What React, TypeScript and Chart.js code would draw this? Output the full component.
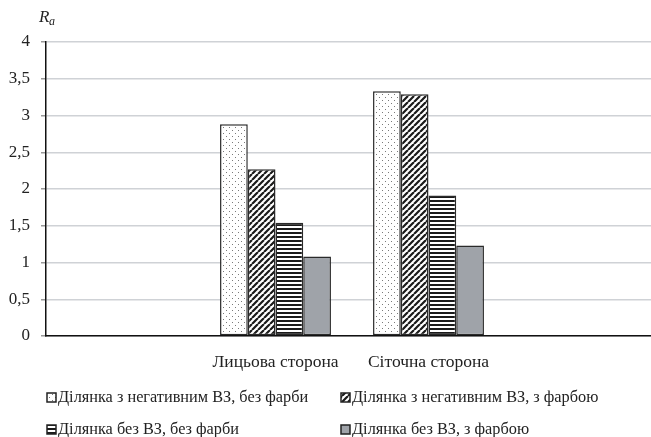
import React, { useEffect, useRef } from "react";
import { Chart, registerables } from "chart.js";

Chart.register(...registerables);

const categories = ["", "Лицьова сторона", "Сіточна сторона", ""];
const seriesNames = [
  "Ділянка з негативним ВЗ, без фарби",
  "Ділянка з негативним ВЗ, з фарбою",
  "Ділянка без ВЗ, без фарби",
  "Ділянка без ВЗ, з фарбою",
];
const s1 = [null, 2.88, 3.33, null];
const s2 = [null, 2.27, 3.29, null];
const s3 = [null, 1.54, 1.91, null];
const s4 = [null, 1.08, 1.23, null];
const yTicks = [0, 0.5, 1, 1.5, 2, 2.5, 3, 3.5, 4];

const FONT = "'Liberation Serif', 'Times New Roman', serif";

function makePattern(kind: string): CanvasPattern | string {
  const c = document.createElement("canvas");
  const ctx = c.getContext("2d")!;
  if (kind === "dots") {
    c.width = 6; c.height = 6;
    ctx.fillStyle = "#ffffff"; ctx.fillRect(0, 0, 6, 6);
    ctx.fillStyle = "#7a7a7a";
    ctx.fillRect(1, 1, 1, 1);
    ctx.fillRect(4, 4, 1, 1);
    return ctx.createPattern(c, "repeat")!;
  }
  if (kind === "diag") {
    const s = 6;
    c.width = s; c.height = s;
    ctx.fillStyle = "#ffffff"; ctx.fillRect(0, 0, s, s);
    ctx.strokeStyle = "#1a1a1a"; ctx.lineWidth = 2.2;
    ctx.beginPath();
    for (let k = -1; k <= 1; k++) {
      ctx.moveTo(k * s, s);
      ctx.lineTo(k * s + s, 0);
    }
    ctx.stroke();
    return ctx.createPattern(c, "repeat")!;
  }
  if (kind === "horiz") {
    c.width = 4; c.height = 4;
    ctx.fillStyle = "#ffffff"; ctx.fillRect(0, 0, 4, 4);
    ctx.fillStyle = "#1a1a1a"; ctx.fillRect(0, 0, 4, 2);
    return ctx.createPattern(c, "repeat")!;
  }
  return "#9fa3a9";
}

export default function App() {
  const ref = useRef<HTMLCanvasElement | null>(null);
  useEffect(() => {
    const fills = [makePattern("dots"), makePattern("diag"), makePattern("horiz"), makePattern("solid")];
    const data = [s1, s2, s3, s4];
    const extras = {
      id: "extras",
      afterDraw(chart: any) {
        const ctx = chart.ctx as CanvasRenderingContext2D;
        ctx.save();
        ctx.fillStyle = "#222";
        ctx.textBaseline = "alphabetic";
        ctx.textAlign = "left";
        ctx.font = `italic 17px ${FONT}`;
        ctx.fillText("R", 39, 22);
        ctx.font = `italic 12px ${FONT}`;
        ctx.fillText("a", 49, 25);
        // legend
        const pos = [
          [47, 398],
          [341, 398],
          [47, 430],
          [341, 430],
        ];
        ctx.font = `16.3px ${FONT}`;
        ctx.textBaseline = "middle";
        for (let i = 0; i < 4; i++) {
          const [x, y] = pos[i];
          ctx.fillStyle = fills[i] as any;
          ctx.fillRect(x, y - 5, 9, 9);
          ctx.strokeStyle = "#222";
          ctx.lineWidth = 1.5;
          ctx.strokeRect(x, y - 5, 9, 9);
          ctx.fillStyle = "#222";
          ctx.fillText(seriesNames[i], x + 11, y);
        }
        ctx.restore();
      },
    };
    const chart = new Chart(ref.current!, {
      type: "bar",
      data: {
        labels: categories,
        datasets: data.map((d, i) => ({
          label: seriesNames[i],
          data: d as any,
          backgroundColor: fills[i] as any,
          borderColor: "#2a2a2a",
          borderWidth: 1.5,
          borderSkipped: false,
          categoryPercentage: 0.725,
          barPercentage: 1,
        })),
      },
      options: {
        animation: false,
        responsive: false,
        layout: { padding: { top: 42, bottom: 61, left: 0, right: 0 } },
        plugins: { legend: { display: false }, tooltip: { enabled: false } },
        scales: {
          x: {
            grid: { display: false },
            border: { display: true, color: "#111", width: 1.5 },
            ticks: { color: "#222", font: { family: FONT, size: 17.5 }, padding: 8 },
            afterFit: (s: any) => { s.height = 40; },
          },
          y: {
            min: 0,
            max: 4,
            afterBuildTicks: (s: any) => { s.ticks = yTicks.map((v) => ({ value: v })); },
            grid: { color: "#cfd2d6", lineWidth: 1.5, tickLength: 5, tickColor: "#999" },
            border: { display: true, color: "#111", width: 1.5 },
            ticks: {
              color: "#222",
              font: { family: FONT, size: 17 },
              padding: 11,
              callback: (v: any) => String(v).replace(".", ","),
            },
            afterFit: (s: any) => { s.width = 46; },
          },
        },
      },
      plugins: [extras],
    });
    return () => chart.destroy();
  }, []);
  return (
    <canvas
      ref={ref}
      width={658}
      height={437}
      style={{ position: "fixed", left: 0, top: 0, background: "#fff" }}
    />
  );
}
